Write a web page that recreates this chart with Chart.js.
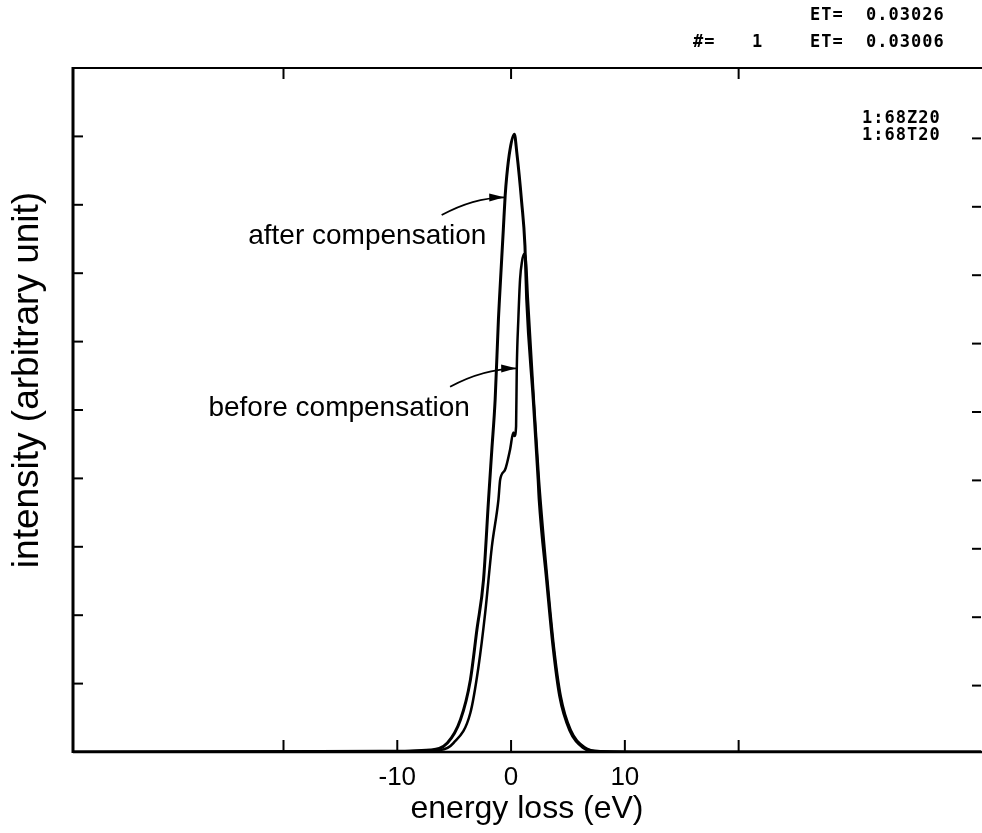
<!DOCTYPE html>
<html>
<head>
<meta charset="utf-8">
<script src="https://cdn.jsdelivr.net/npm/chart.js@4.4.1/dist/chart.umd.min.js"></script>
<style>
  html, body { margin: 0; padding: 0; background: #fff; overflow: hidden; }
  #wrap { width: 982px; height: 833px; }
</style>
</head>
<body>
<div id="wrap"><canvas id="myChart"></canvas></div>
<script>
// energy loss (eV) / intensity
const afterX = [-38.5, -11.4, -7.1, -5.6, -4.45, -3.58, -3.0, -2.42, -1.98, -1.69, -1.4, -1.11, -1.02, -0.68, -0.52, -0.38, -0.09, 0.29, 0.5, 0.93, 1.22, 1.37, 1.95, 2.38, 2.47, 3.12, 3.69, 4.28, 5.15, 6.29, 7.48, 12, 41.3];
const afterY = [0, 0.01, 0.03, 0.13, 0.47, 1.05, 1.79, 2.52, 3.69, 4.42, 5.15, 6.33, 6.62, 7.64, 8.13, 8.42, 8.81, 9.03, 8.77, 8.04, 7.4, 6.62, 5.15, 3.98, 3.69, 2.52, 1.54, 0.81, 0.32, 0.07, 0.01, 0, 0];

const beforeX = [-38.5, -11.4, -6.2, -5.07, -3.58, -2.86, -2.27, -1.69, -1.11, -0.96, -0.52, -0.09, 0.2, 0.3, 0.44, 0.5, 0.64, 0.79, 0.96, 1.14, 1.31, 1.48, 2.0, 2.45, 3.19, 3.76, 4.37, 5.24, 6.46, 7.77, 12, 41.3];
const beforeY = [0, 0.01, 0.03, 0.13, 0.57, 1.25, 2.04, 3.0, 3.69, 3.98, 4.13, 4.42, 4.67, 4.62, 4.76, 5.59, 6.33, 6.91, 7.17, 7.28, 7.17, 6.62, 5.15, 3.98, 2.52, 1.54, 0.81, 0.32, 0.07, 0.01, 0, 0];

const xTicks = [-20, -10, 0, 10, 20];
const xTopTicks = [-20, 0, 20];
const xTickLabels = ['-10', '0', '10'];
const yTicks = [1, 2, 3, 4, 5, 6, 7, 8, 9];

function toPoints(xs, ys) {
  return xs.map((x, i) => ({ x: x, y: ys[i] }));
}

// рамка, засечки внутрь, подписи и стрелки
const framePlugin = {
  id: 'frame',
  afterDraw(chart) {
    const ctx = chart.ctx;
    const a = chart.chartArea;
    const xs = chart.scales.x, ys = chart.scales.y;
    ctx.save();
    ctx.strokeStyle = '#000';
    ctx.fillStyle = '#000';
    ctx.lineCap = 'butt';

    // borders
    ctx.lineWidth = 2;
    ctx.beginPath(); ctx.moveTo(a.left, a.top); ctx.lineTo(a.right + 2, a.top); ctx.stroke();
    ctx.lineWidth = 3;
    ctx.beginPath(); ctx.moveTo(a.left, a.top - 1); ctx.lineTo(a.left, a.bottom + 1); ctx.stroke();
    ctx.lineWidth = 2.5;
    ctx.beginPath(); ctx.moveTo(a.left, a.bottom); ctx.lineTo(a.right + 2, a.bottom); ctx.stroke();

    // ticks
    ctx.lineWidth = 2;
    yTicks.forEach(v => {
      const y = ys.getPixelForValue(v);
      ctx.beginPath(); ctx.moveTo(a.left, y); ctx.lineTo(a.left + 10, y); ctx.stroke();
      ctx.beginPath(); ctx.moveTo(a.right - 9, y + 2); ctx.lineTo(a.right, y + 2); ctx.stroke();
    });
    xTicks.forEach(v => {
      const x = xs.getPixelForValue(v);
      ctx.beginPath(); ctx.moveTo(x, a.bottom); ctx.lineTo(x, a.bottom - 12); ctx.stroke();
    });
    xTopTicks.forEach(v => {
      const x = xs.getPixelForValue(v);
      ctx.beginPath(); ctx.moveTo(x, a.top); ctx.lineTo(x, a.top + 11); ctx.stroke();
    });

    // y title
    ctx.save();
    ctx.translate(28, 380);
    ctx.rotate(-Math.PI / 2);
    ctx.font = '37px "Liberation Sans", Arial, sans-serif';
    ctx.textAlign = 'center';
    ctx.textBaseline = 'middle';
    ctx.fillText('intensity (arbitrary unit)', 0, 0);
    ctx.restore();

    // annotations
    ctx.font = '28px "Liberation Sans", Arial, sans-serif';
    ctx.textAlign = 'left';
    ctx.textBaseline = 'middle';
    ctx.fillText('after compensation', xs.getPixelForValue(-23.1), ys.getPixelForValue(7.54));
    ctx.fillText('before compensation', xs.getPixelForValue(-26.6), ys.getPixelForValue(5.03));

    function arrow(x0, y0, cx, cy, x1, y1) {
      const p0 = [xs.getPixelForValue(x0), ys.getPixelForValue(y0)];
      const pc = [xs.getPixelForValue(cx), ys.getPixelForValue(cy)];
      const p1 = [xs.getPixelForValue(x1), ys.getPixelForValue(y1)];
      ctx.lineWidth = 1.8;
      ctx.beginPath(); ctx.moveTo(p0[0], p0[1]);
      ctx.quadraticCurveTo(pc[0], pc[1], p1[0], p1[1]); ctx.stroke();
      const ang = Math.atan2(p1[1] - pc[1], p1[0] - pc[0]);
      const len = 15, w = 4;
      ctx.beginPath();
      ctx.moveTo(p1[0], p1[1]);
      ctx.lineTo(p1[0] - len * Math.cos(ang) + w * Math.sin(ang), p1[1] - len * Math.sin(ang) - w * Math.cos(ang));
      ctx.lineTo(p1[0] - len * Math.cos(ang) - w * Math.sin(ang), p1[1] - len * Math.sin(ang) + w * Math.cos(ang));
      ctx.closePath(); ctx.fill();
    }
    arrow(-6.1, 7.85, -3.4, 8.1, -0.6, 8.11);
    arrow(-5.36, 5.34, -2.5, 5.6, 0.45, 5.61);

    // plotter header text
    ctx.font = 'bold 17px "DejaVu Sans Mono", monospace';
    ctx.letterSpacing = '1px';
    ctx.textBaseline = 'middle';
    ctx.fillText('ET=', 810, 16);
    ctx.fillText('0.03026', 866, 16);
    ctx.fillText('#=', 693, 43);
    ctx.fillText('1', 752, 43);
    ctx.fillText('ET=', 810, 43);
    ctx.fillText('0.03006', 866, 43);
    ctx.fillText('1:68Z20', 862, 119);
    ctx.fillText('1:68T20', 862, 136);
    ctx.restore();
  }
};

const ctx = document.getElementById('myChart').getContext('2d');
const chart = new Chart(ctx, {
  type: 'line',
  data: {
    datasets: [{
      label: 'after compensation',
      data: toPoints(afterX, afterY),
      borderColor: '#000',
      borderWidth: 3,
      pointRadius: 0,
      cubicInterpolationMode: 'monotone',
      fill: false
    }, {
      label: 'before compensation',
      data: toPoints(beforeX, beforeY),
      borderColor: '#000',
      borderWidth: 2.5,
      pointRadius: 0,
      cubicInterpolationMode: 'monotone',
      fill: false
    }]
  },
  options: {
    responsive: true,
    maintainAspectRatio: false,
    animation: false,
    devicePixelRatio: 1,
    layout: { padding: { top: 68, right: 1, left: 0, bottom: 0 } },
    plugins: { legend: { display: false }, tooltip: { enabled: false } },
    scales: {
      x: {
        type: 'linear',
        min: -38.5,
        max: 41.3,
        afterBuildTicks: s => { s.ticks = xTicks.map(v => ({ value: v })); },
        afterFit: s => { s.height = 81; },
        grid: { display: false, drawTicks: false },
        border: { display: false },
        ticks: {
          autoSkip: false,
          maxRotation: 0,
          padding: 10,
          color: '#000',
          font: { family: '"Liberation Sans", Arial, sans-serif', size: 26 },
          callback: v => xTickLabels.includes(String(v)) ? String(v) : ''
        },
        title: {
          display: true,
          text: 'energy loss (eV)',
          color: '#000',
          font: { family: '"Liberation Sans", Arial, sans-serif', size: 32 },
          padding: { top: 0, bottom: 5 }
        }
      },
      y: {
        min: 0,
        max: 10,
        afterFit: s => { s.width = 73; },
        grid: { display: false },
        border: { display: false },
        ticks: { display: false }
      }
    }
  },
  plugins: [framePlugin]
});
</script>
</body>
</html>
